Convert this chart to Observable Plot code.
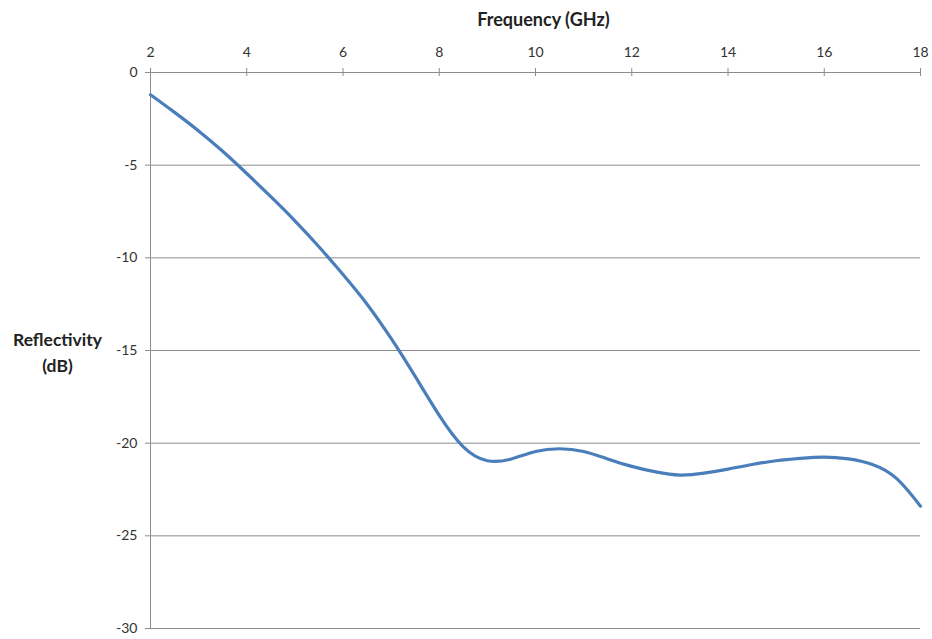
<!DOCTYPE html>
<html>
<head>
<meta charset="utf-8">
<script src="https://cdn.jsdelivr.net/npm/d3@7"></script>
<script src="https://cdn.jsdelivr.net/npm/@observablehq/plot@0.6"></script>
<style>
  html, body { margin: 0; padding: 0; background: #fff; }
  svg { font-family: Lato, "Open Sans", sans-serif; }
</style>
</head>
<body>
<div id="chart"></div>
<script>
// Frequency (GHz)
const frequency = [2, 2.5, 3, 3.5, 4, 4.5, 5, 5.5, 6, 6.5, 7, 7.5, 8, 8.5, 9, 9.5, 10, 10.5, 11, 11.5, 12, 12.5, 13, 13.5, 14, 14.5, 15, 15.5, 16, 16.5, 17, 17.5, 18];
// Reflectivity (dB)
const reflectivity = [-1.2, -2.15, -3.15, -4.25, -5.45, -6.7, -8.0, -9.4, -10.9, -12.5, -14.35, -16.4, -18.5, -20.2, -20.95, -20.85, -20.45, -20.3, -20.45, -20.85, -21.25, -21.55, -21.72, -21.62, -21.4, -21.15, -20.95, -20.82, -20.75, -20.85, -21.15, -21.9, -23.4];

const xTicks = [2, 4, 6, 8, 10, 12, 14, 16, 18];
const yTicks = [0, -5, -10, -15, -20, -25, -30];
const gridValues = [-5, -10, -15, -20, -25, -30];
const xLabel = "Frequency (GHz)";
const yLabel = "Reflectivity\n(dB)";

const data = frequency.map((f, i) => ({f, r: reflectivity[i]}));

const chart = Plot.plot({
  width: 932,
  height: 639,
  marginTop: 72,
  marginLeft: 150,
  marginRight: 12,
  marginBottom: 11,
  x: {domain: [2, 18]},
  y: {domain: [-30, 0]},
  marks: [
    Plot.ruleY(gridValues, {stroke: "#8c8c8c", strokeWidth: 1}),
    Plot.ruleY([0], {stroke: "#8c8c8c", strokeWidth: 1}),
    Plot.ruleX([2], {y1: -30, y2: 0, stroke: "#8c8c8c", strokeWidth: 1}),
    Plot.ruleX(xTicks, {y1: 0, y2: 0, insetTop: -4, insetBottom: -4, stroke: "#8c8c8c", strokeWidth: 1}),
    Plot.axisX({anchor: "top", ticks: xTicks, tickSize: 0, tickPadding: 16, tickFormat: d => String(d), fontSize: 14, color: "#333", label: null}),
    Plot.axisY({anchor: "left", ticks: yTicks, tickSize: 5, tickPadding: 8, tickFormat: d => String(d), fontSize: 14, color: "#333", stroke: "#8c8c8c", label: null}),
    Plot.text([xLabel], {frameAnchor: "top", lineAnchor: "middle", dx: 8, dy: -52, text: d => d, fontSize: 18, fontWeight: "bold", fill: "#222"}),
    Plot.text([yLabel], {frameAnchor: "left", lineAnchor: "middle", dx: -93, dy: 0, text: d => d, fontSize: 17.5, fontWeight: "bold", fill: "#222", lineHeight: 1.5, textAnchor: "middle"}),
    Plot.line(data, {x: "f", y: "r", curve: "natural", stroke: "#4a7ebb", strokeWidth: 3.2})
  ]
});
document.getElementById("chart").appendChild(chart);
</script>
</body>
</html>
